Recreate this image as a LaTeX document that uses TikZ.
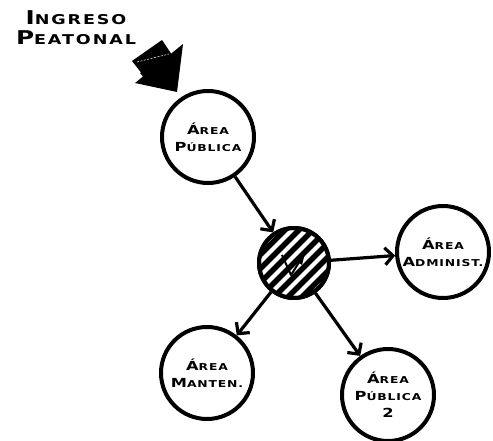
\documentclass[tikz,border=0pt]{standalone}
\usepackage{fontspec}
\usetikzlibrary{arrows.meta}
\newfontfamily\capfont[FakeStretch=1.3,LetterSpace=14]{DejaVu Sans}
\newfontfamily\lblfont[FakeStretch=1.3,LetterSpace=9]{DejaVu Sans}
\newcommand\bigC[1]{{\fontsize{12.5}{16}\selectfont #1}}
\newcommand\hugeC[1]{{\fontsize{19}{20}\selectfont #1}}
\begin{document}
\begin{tikzpicture}[x=1pt,y=-1pt,line join=round,
  area/.style={circle,draw,line width=4pt,minimum size=92pt,inner sep=0pt,align=center,
    font=\lblfont\bfseries\fontsize{9.5}{17}\selectfont},
  conn/.style={line width=3.2pt,-{Straight Barb[length=8pt,width=17pt]}}]
\useasboundingbox (0,0) rectangle (493,441);
% heading
\node[align=center,font=\capfont\bfseries\fontsize{13.5}{20}\selectfont] (ing) at (76,28)
  {\hugeC{I}NGRESO\\\hugeC{P}EATONAL};
% entry arrow
\fill (132,61) -- (162,40) -- (172,55) -- (143,75) -- cycle;
\fill (135,83) -- (183,44) -- (177,92) -- cycle;
\fill (140,73) -- (172,55) -- (150,85) -- cycle;
\draw[white,line width=0.6pt,dash pattern=on 2pt off 1.5pt] (137,62) -- (169,54);
% nodes
\node[area] (ap) at (208,137) {\bigC{Á}REA\\\bigC{P}ÚBLICA};
\node[area] (adm) at (443,252) {\bigC{Á}REA\\\bigC{A}DMINIST.};
\node[area] (man) at (207,373) {\bigC{Á}REA\\\bigC{M}ANTEN.};
\node[area] (ap2) at (388,395) {\bigC{Á}REA\\\bigC{P}ÚBLICA\\\bigC{2}};
\node[circle,draw,line width=4pt,minimum size=70pt,inner sep=0pt] (hub) at (294,263) {};
\begin{scope}[shift={(hub.center)}]
  \clip (0,0) circle (34);
  \foreach \s in {-70,-63,...,70}
    \draw[line width=5.5pt] (\s-50,\s+50) -- (\s+50,\s-50);
  \draw[line width=2pt] (-12,-8) -- (-3,12) -- (11,-10);
  \fill (2,-2) -- (11,-10) -- (8,2) -- cycle;
\end{scope}
\node[circle,draw,line width=4pt,minimum size=70pt,inner sep=0pt] at (hub.center) {};
% connectors
\draw[conn] (ap) -- (hub);
\draw[conn] (hub) -- (adm);
\draw[conn] (hub) -- (man);
\draw[conn] (hub) -- (ap2);
\end{tikzpicture}
\end{document}
